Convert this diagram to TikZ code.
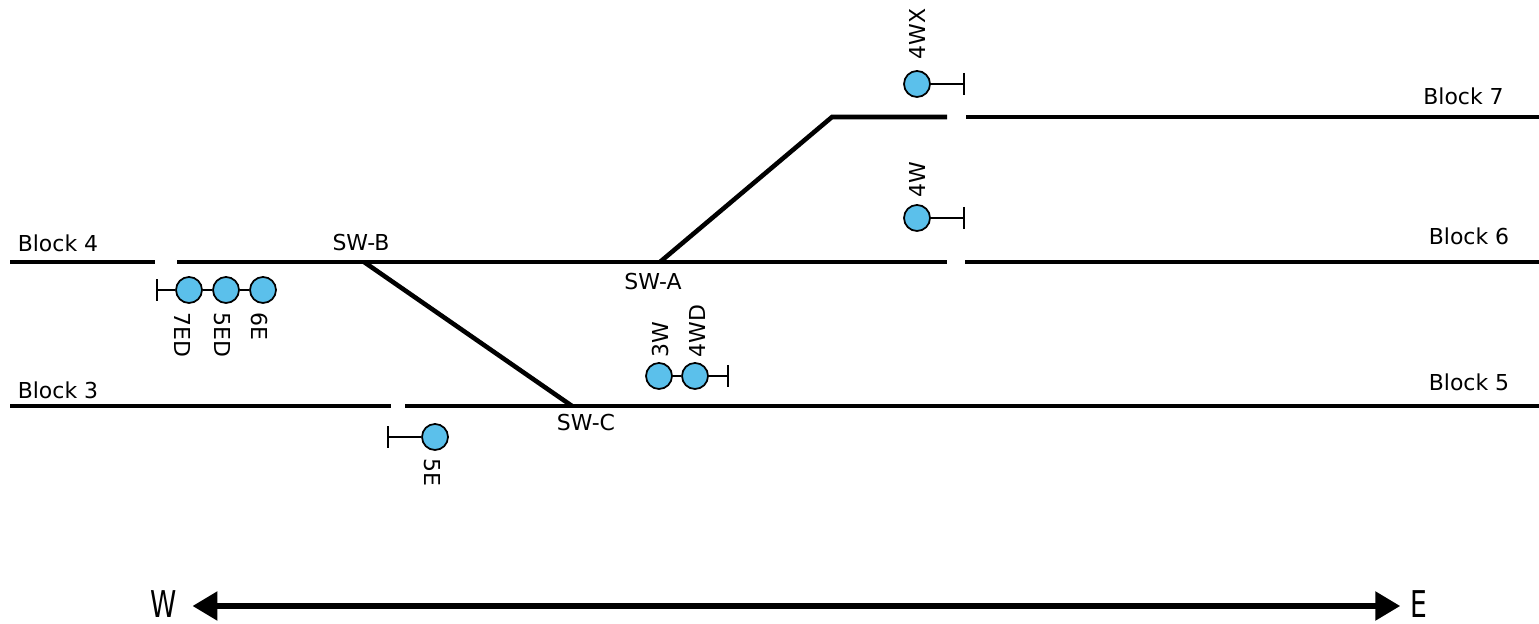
\documentclass[tikz,border=0pt]{standalone}
\usepackage{fontspec}
\setmainfont{DejaVu Sans}
\newfontfamily\dirfont[FakeStretch=0.72]{DejaVu Sans}
\usetikzlibrary{arrows.meta}

\begin{document}
\begin{tikzpicture}[
    track/.style={line width=2.6pt},
    lamp/.style={circle, draw=black, line width=1pt, fill=sig_blue,
        minimum size=0.52cm, inner sep=0pt},
    stem/.style={line width=1.2pt},
    stop/.style={stem, -{Bar[width=0.44cm]}},
    lbl/.style={font=\fontsize{12.5}{14}\selectfont, inner sep=0pt},
    up/.style={lbl, rotate=90, anchor=west},
    down/.style={lbl, rotate=-90, anchor=west},
    dir/.style={font=\dirfont\fontsize{21}{23}\selectfont, inner sep=0pt},
]
    \definecolor{sig_blue}{HTML}{5BC0EB}
    %\draw[help lines] (0,0) grid (31,13);
    \useasboundingbox (0,0) rectangle (30.78,12.48);

    % track points
    \coordinate (w4) at (0.20,7.24);
    \coordinate (g4a) at (3.10,7.24);
    \coordinate (g4b) at (3.54,7.24);
    \coordinate (swB) at (7.28,7.24);
    \coordinate (swA) at (13.20,7.24);
    \coordinate (g6a) at (18.94,7.24);
    \coordinate (g6b) at (19.30,7.24);
    \coordinate (e6) at (30.78,7.24);
    \coordinate (top7) at (16.64,10.14);
    \coordinate (g7a) at (18.94,10.14);
    \coordinate (g7b) at (19.32,10.14);
    \coordinate (e7) at (30.78,10.14);
    \coordinate (w3) at (0.20,4.36);
    \coordinate (g3a) at (7.82,4.36);
    \coordinate (g3b) at (8.10,4.36);
    \coordinate (swC) at (11.44,4.36);
    \coordinate (e5) at (30.78,4.36);

    \draw[track] (w4) -- (g4a);
    \draw[track] (g4b) -- (g6a);
    \draw[track] (g6b) -- (e6);
    \draw[track] (swA) -- (top7) -- (g7a);
    \draw[track] (g7b) -- (e7);
    \draw[track] (w3) -- (g3a);
    \draw[track] (g3b) -- (e5);
    \draw[track] (swB) -- (swC);

    % block and switch names
    \node[lbl] (blk4) at (1.16,7.61) {Block 4};
    \node[lbl] (blk3) at (1.16,4.68) {Block 3};
    \node[lbl] (blk7) at (29.27,10.55) {Block 7};
    \node[lbl] (blk6) at (29.38,7.75) {Block 6};
    \node[lbl] (blk5) at (29.38,4.83) {Block 5};
    \node[lbl] (nswB) at (7.22,7.62) {SW-B};
    \node[lbl] (nswA) at (13.06,6.84) {SW-A};
    \node[lbl] (nswC) at (11.72,4.02) {SW-C};

    % signals
    \node[lamp] (s7ED) at (3.78,6.68) {};
    \node[lamp] (s5ED) at (4.52,6.68) {};
    \node[lamp] (s6E) at (5.26,6.68) {};
    \coordinate (b7ED) at (3.12,6.68);
    \draw[stem] (s7ED) -- (s5ED) -- (s6E);
    \draw[stop] (s7ED) -- (b7ED);
    \node[down] (t7ED) at (3.66,6.24) {7ED};
    \node[down] (t5ED) at (4.44,6.24) {5ED};
    \node[down] (t6E) at (5.18,6.24) {6E};

    \node[lamp] (s5E) at (8.70,3.74) {};
    \coordinate (b5E) at (7.74,3.74);
    \draw[stop] (s5E) -- (b5E);
    \node[down] (t5E) at (8.64,3.32) {5E};

    \node[lamp] (s3W) at (13.18,4.96) {};
    \node[lamp] (s4WD) at (13.90,4.96) {};
    \coordinate (b4WD) at (14.58,4.96);
    \draw[stem] (s3W) -- (s4WD);
    \draw[stop] (s4WD) -- (b4WD);
    \node[up] (t3W) at (13.20,5.32) {3W};
    \node[up] (t4WD) at (13.94,5.32) {4WD};

    \node[lamp] (s4W) at (18.34,8.12) {};
    \coordinate (b4W) at (19.30,8.12);
    \draw[stop] (s4W) -- (b4W);
    \node[up] (t4W) at (18.34,8.52) {4W};

    \node[lamp] (s4WX) at (18.34,10.80) {};
    \coordinate (b4WX) at (19.30,10.80);
    \draw[stop] (s4WX) -- (b4WX);
    \node[up] (t4WX) at (18.34,11.28) {4WX};

    % direction
    \node[dir] (west) at (3.28,0.40) {W};
    \node[dir] (east) at (28.38,0.40) {E};
    \draw[line width=3.2pt, {Triangle[length=0.5cm,width=0.56cm]}-{Triangle[length=0.5cm,width=0.56cm]}]
        (west.east) ++(0.3,-0.04) coordinate (aw) (east.west) ++(-0.2,-0.04) coordinate (ae)
        (aw) -- (ae);
\end{tikzpicture}
\end{document}
